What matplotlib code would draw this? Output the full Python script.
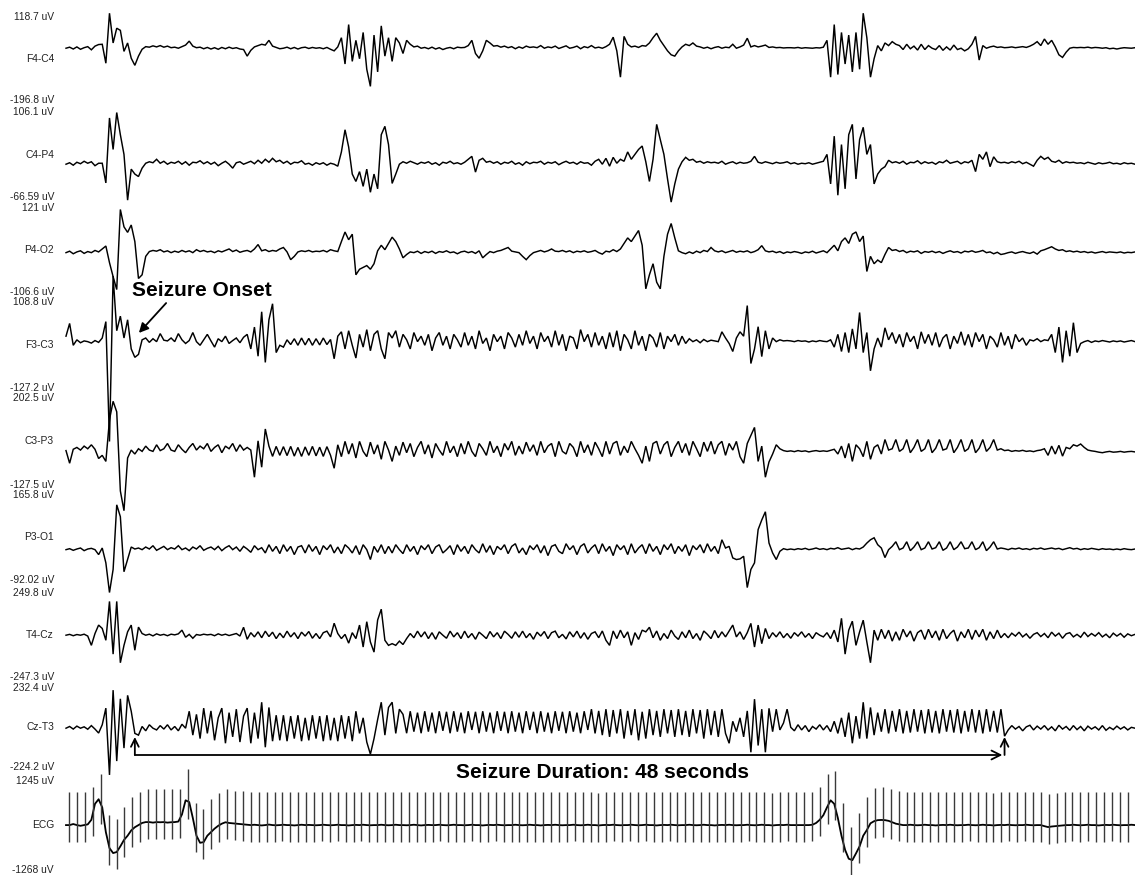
import numpy as np
import matplotlib
matplotlib.use('Agg')
import matplotlib.pyplot as plt

# ---------------- data ----------------
DT = 0.2          # seconds per sample
T_END = 59.0      # visible time window (s)

channels = ['F4-C4', 'C4-P4', 'P4-O2', 'F3-C3', 'C3-P3', 'P3-O1', 'T4-Cz', 'Cz-T3', 'ECG']
scale_max_lbl = ['118.7 uV', '106.1 uV', '121 uV', '108.8 uV', '202.5 uV',
                 '165.8 uV', '249.8 uV', '232.4 uV', '1245 uV']
scale_min_lbl = ['-196.8 uV', '-66.59 uV', '-106.6 uV', '-127.2 uV', '-127.5 uV',
                 '-92.02 uV', '-247.3 uV', '-224.2 uV', '-1268 uV']
ymax_uv = [118.7, 106.1, 121.0, 108.8, 202.5, 165.8, 249.8, 232.4, 1245.0]
ymin_uv = [-196.8, -66.59, -106.6, -127.2, -127.5, -92.02, -247.3, -224.2, -1268.0]

seizure_onset_s = 3.8
seizure_duration_s = 48

# EEG samples (uV), one value every DT seconds
f4c4 = [0, 4, -3, 5, -4, 2, 6, -6, 8, 14,
        15, -57, 133, 20, 76, 68, -12, 20, -38, -65,
        -30, -4, 6, 4, 9, 5, 10, 4, 8, 2,
        4, 0, 6, 12, 27, 8, 2, 4, -2, 3,
        -3, 2, -4, 3, -2, 4, -1, 2, -3, -5,
        -30, -8, 5, 10, 15, 12, 30, 8, 3, -2,
        0, 4, -2, 3, -3, 2, 4, -1, 3, 0,
        2, -2, 3, -4, -10, 5, 40, -60, 90, -50,
        30, -40, 60, -80, -145, 50, -90, 85, -30, 40,
        -50, 40, 20, -20, 30, 15, 5, 8, 0, 3,
        -2, 4, -3, 2, -5, 0, 3, -2, 4, 2,
        3, 10, 30, -20, -38, -10, 30, 20, 8, 10,
        4, 8, 2, 6, -2, 5, 0, 8, 3, 5,
        2, 10, 0, 5, 2, 8, -1, 4, 9, 0,
        3, 8, -2, 6, 2, 10, 1, 4, 0, 6,
        15, 42, -10, -110, 45, 15, 5, 8, 3, 10,
        8, 20, 40, 57, 30, 10, -10, -25, -30, -10,
        5, 15, 10, 20, 8, 5, 0, 4, -2, 3,
        6, 0, 4, 2, 15, 0, 5, 12, 38, 5,
        10, 5, 8, 12, 3, 5, 2, 3, 1, 2,
        2, 1, 3, 0, 2, 1, 0, 2, 1, 4,
        30, -110, 90, -100, 60, -60, 50, -90, 60, -80,
        133, 40, -110, -40, 10, -10, 20, 10, 25, 15,
        10, -5, 15, -2, 8, -7, 15, -5, 10, 0,
        -5, 10, -8, 5, -7, 12, -5, 0, -10, -2,
        15, 45, -45, 10, 0, 5, 8, 3, 5, 2,
        3, 5, 2, 4, 6, 3, 8, 15, 25, 10,
        35, 15, 30, 5, -25, -35, -15, 0, 3, 2,
        3, 2, 4, 1, 3, 2, 0, 2, -2, 0,
        -3, 0, 2, 1, 0, 2]

c4p4 = [0, 3, -2, 4, 1, 6, 2, 5, -3, 2,
        2, -38, 94, 30, 105, 60, 20, -73, -10, -20,
        -25, -8, 2, 5, 3, 10, 2, 6, 0, 4,
        2, 6, 0, 5, -2, 4, 3, 7, 1, 5,
        0, 4, -3, 2, 6, 0, -8, 3, 5, 0,
        3, 6, 1, 8, 2, 10, 4, 12, 5, 8,
        2, 6, 0, 4, 3, 7, 0, 2, -2, 3,
        0, 3, -2, 2, 0, -4, 25, 70, 35, -20,
        -35, -15, -45, -10, -57, -20, -50, 60, 77, 40,
        -39, -20, 0, 5, 2, 6, 3, 0, 4, 2,
        5, 0, 3, -2, 4, 2, 6, 1, 3, 0,
        4, 10, 16, -16, 8, 12, 4, 6, 2, 5,
        0, 4, 2, 6, 0, 3, -2, 5, 1, 4,
        3, 6, 0, 4, 2, 5, -1, 3, 6, 2,
        4, 0, 5, 2, 3, -2, 6, 10, 0, 12,
        -4, 14, 2, 10, 6, 25, 10, 20, 30, 37,
        5, -35, 10, 81, 50, 20, -30, -77, -40, -10,
        5, 14, 8, 10, 4, 6, 2, 5, 3, 4,
        2, 6, 0, 3, 5, 1, 4, 2, 3, 6,
        16, 4, 2, 5, 3, 1, 4, 2, 3, 5,
        1, 3, 0, 2, 1, 3, 0, 2, 4, 6,
        20, -40, 57, -63, 40, -50, 60, 81, -30, 50,
        75, 20, 40, -40, -20, -10, -5, 8, 3, 5,
        2, 6, 0, 4, 3, 7, 1, 5, 2, 4,
        0, 5, 3, 8, 2, 4, 6, 1, 5, 3,
        8, -15, 20, 10, 25, -5, 15, 5, 3, 4,
        2, 5, 3, 6, 1, 4, 0, -4, 8, 16,
        10, 14, 6, 4, 8, 2, 5, 3, 4, 2,
        3, 1, 4, 2, 0, 3, 1, 2, 4, 1,
        2, 0, 3, 1, 2, 0]

p4o2 = [0, 4, -3, 2, 5, -2, 3, 0, 6, 2,
        10, 18, -27, -65, -100, 117, 70, 55, 75, 30,
        -70, -60, -10, 3, 6, 4, 8, 2, 5, 0,
        4, 1, 6, 2, 5, 0, 8, 3, 6, 2,
        4, 0, 5, 2, 6, 10, 3, 7, 1, 4,
        6, 2, 10, 22, 5, 8, 3, 6, 4, 10,
        14, 2, -19, -10, 2, 5, 3, 6, 2, 4,
        3, 6, 2, 8, 5, 3, 30, 56, 35, 50,
        -60, -45, -40, -35, -45, -30, 5, 20, 8, 25,
        42, 30, 10, -14, -5, 2, 0, 4, -2, 3,
        0, 4, -2, 3, 1, 5, 0, 2, -3, 2,
        4, 0, 3, -2, 5, -14, -5, 3, 0, 4,
        6, 10, 14, 4, 2, 0, -10, -19, -8, 0,
        3, 6, 2, 5, 10, 4, 3, 6, 2, 5,
        0, 4, 2, 5, 1, 3, 6, 0, -4, 4,
        2, 8, 3, 10, 25, 40, 30, 45, 60, 20,
        -98, -60, -30, -80, -98, -10, 50, 79, 40, 5,
        0, -3, 2, -2, 4, 0, 6, 3, 14, 5,
        2, 5, 0, 3, 6, 1, 4, 2, 5, 0,
        3, 8, 19, 5, 2, 4, 0, 3, -2, 2,
        0, 3, 1, -2, 2, 0, 4, -1, 2, 5,
        0, 10, 20, 5, 30, 40, 25, 50, 56, 30,
        45, -51, -10, -30, -20, -27, -5, 14, 6, 8,
        3, 6, 0, 4, 2, 5, -2, 3, 1, 4,
        0, 3, -2, 2, 5, 1, 3, -1, 4, 2,
        5, 1, 3, 6, 0, 2, -3, 1, -5, -3,
        0, 2, -2, 1, 3, 0, -2, 2, -4, 5,
        8, 12, 16, 10, 6, 8, 3, 5, 2, 4,
        1, 3, 0, 2, -1, 1, 3, 0, 2, 1,
        0, 2, -1, 1, 0, 2]

f3c3 = [15, 50, -10, 5, -3, 2, 0, -4, 3, -2,
        10, 55, -274, 180, 30, 70, 10, 60, -20, -43,
        -35, 5, 10, -2, 8, 0, 22, 4, 2, 10,
        0, 22, 5, -5, 3, 25, 0, -10, 5, 20,
        2, -15, 8, 0, 15, -5, 3, 10, -3, 12,
        20, -20, 40, -40, 82, -57, 60, 104, -30, -10,
        -15, 5, -8, 8, -10, 10, -9, 9, -10, 8,
        -9, 10, -8, 6, -47, 15, 27, -20, 30, -10,
        -45, 20, -15, 33, -25, 20, 30, -20, -47, 25,
        10, 30, -15, 20, 5, -20, 25, 0, 15, -10,
        20, -25, 10, 25, -10, 15, -20, 20, 5, -15,
        25, -10, 15, -20, 30, -5, 10, -25, 20, 0,
        15, -20, 25, 10, -15, 20, -10, 30, -5, 15,
        -20, 25, 0, 15, -15, 30, -10, 20, -25, 15,
        10, -20, 33, 0, 20, -15, 25, -10, 15, -20,
        25, -15, 30, -25, 20, 5, -20, 30, -10, 15,
        -25, 20, 10, -15, 25, -20, 15, 0, 20, -10,
        15, -5, 8, 0, 5, -3, 6, 0, 4, 2,
        0, 27, 10, -5, -27, 10, 27, 15, 99, -60,
        -20, 41, -41, 30, -20, 10, 0, 5, 2, 3,
        2, 0, 3, 1, 2, -1, 2, 0, 3, 1,
        0, 5, -15, 20, -27, 25, -30, 35, -20, 80,
        -30, 25, -80, -20, 10, -15, 38, 5, 25, -5,
        20, -15, 25, 0, 15, -20, 27, -5, 20, -10,
        25, -15, 10, 20, -20, 15, -5, 27, -10, 20,
        -15, 25, 0, 20, -20, 15, 5, -15, 25, -10,
        15, -20, 20, 0, 10, -10, 5, 2, 8, 0,
        5, 3, 20, -30, 40, -57, 30, -40, 52, -30,
        -5, 0, 3, -2, 2, 0, 3, 1, -1, 2,
        0, 2, -1, 1, 3, 0]

c3p3 = [3, -45, 8, 15, 5, 20, 10, 25, 8, -27,
        -15, -38, 120, 190, 150, -150, -225, -25, 5, -10,
        10, 0, 20, 5, 0, 25, 3, 10, 30, 5,
        0, 25, 8, -5, 15, 30, 5, 20, 10, 30,
        0, 15, 25, -5, 20, 10, 30, 0, 25, 5,
        15, 5, -98, 40, -60, 85, 20, -19, 19, -15,
        18, -16, 19, -18, 15, -19, 17, -15, 19, -17,
        16, -19, 18, -15, -64, 25, -20, 38, -10, 30,
        -25, 38, 0, -20, 35, -10, 25, -30, 38, 5,
        -38, 20, -15, 35, -5, 30, -20, 15, 38, -10,
        25, -25, 30, 5, -15, 38, -5, 20, -20, 30,
        -10, 38, 0, -20, 30, 10, -15, 38, -5, 20,
        -20, 30, 5, 38, -15, 20, -10, 35, 0, 25,
        -15, 38, -5, 20, 30, -20, 38, 0, -10, 30,
        15, -20, 38, -5, 25, -15, 35, 10, -20, 38,
        -10, 30, 38, -15, 20, -5, 38, 10, -15, -45,
        20, -38, 30, 38, -10, 25, 38, -20, 15, 38,
        -5, 30, -15, 38, 10, -20, 35, 0, 38, -10,
        25, 38, -15, 30, 5, 38, -20, -45, 30, 60,
        91, -38, 20, -98, -40, -10, 25, 10, 3, 0,
        2, -1, 3, 0, 2, -2, 1, 3, 0, 2,
        0, 4, 8, -10, 20, -25, 30, -38, 25, 10,
        -20, 38, -30, 15, 25, -10, 45, 5, 10, 45,
        0, 10, 45, -5, 15, 45, 0, 10, 45, -5,
        12, 45, 5, 10, 45, -5, 15, 45, 0, 10,
        45, -5, 12, 45, 0, 15, 45, 5, 10, 3,
        5, 0, 3, 1, 4, 0, 2, -1, 3, 5,
        10, -15, 20, -10, 23, -18, 15, 10, 25, 20,
        28, 15, 5, 2, 0, -3, -5, -2, 0, -3,
        -2, 0, -3, -1, 0, -2]

p3o1 = [0, 3, -2, 2, 5, -3, 2, 4, 0, -15,
        5, -40, -130, -60, 136, 100, -67, -30, 8, 2,
        5, 0, 8, 2, 12, -2, 4, 10, 0, 6,
        2, 12, 0, 5, -3, 8, 2, 12, -2, 4,
        8, 0, 10, -3, 6, 12, 0, 8, -5, 10,
        2, -8, 12, 0, 6, -10, 15, -5, 10, -12,
        15, -5, 10, -15, 8, 12, -10, 15, -5, 10,
        -15, 12, 0, 15, -10, 8, -12, 15, 5, -10,
        12, -15, 15, 0, -30, 10, -8, 15, -12, 10,
        -10, 15, 0, -12, 15, -5, 10, -15, 12, 0,
        15, -12, 8, 15, -10, 0, 12, -15, 15, -5,
        10, -12, 15, 0, -10, 18, -8, 12, -15, 10,
        0, 15, -12, 10, 18, -10, 5, -15, 12, 0,
        15, -10, 12, -18, 10, 15, -5, -12, 18, 0,
        12, -15, 10, 18, -10, 5, 15, -12, 18, -5,
        10, -18, 15, 0, 12, -15, 18, -10, 5, 15,
        -12, 18, -5, 10, -15, 15, 0, 18, -12, 10,
        -5, 15, -18, 12, 0, 15, -10, 18, -5, 10,
        -12, 30, 5, 10, -25, -30, -28, -20, -115, -60,
        -40, 61, 90, 115, 20, -10, -30, -5, 3, 0,
        2, 0, 3, 1, 4, 0, 2, 5, 1, 3,
        0, 4, 2, 6, 1, 3, 5, 0, 4, 2,
        8, 20, 30, 36, 15, 5, -24, 0, 10, 24,
        0, 5, 24, -3, 8, 24, 0, 5, 24, 2,
        6, 24, -2, 5, 24, 0, 8, 24, 3, 5,
        24, 0, 6, 24, -3, 8, 24, 2, 5, 3,
        0, 4, 2, 5, 1, 3, 0, 4, 2, 5,
        1, 3, 5, 2, 4, 0, 3, 6, 2, 4,
        0, 3, 1, 4, 2, 0, 3, 1, 2, 0,
        2, 0, 3, 1, 0, 2]

t4cz = [0, 5, -3, 4, 0, 6, -5, -60, 10, 60,
        40, -30, 200, -112, 200, -163, -60, 20, 60, -89,
        48, 10, 0, 6, -4, 8, 0, 5, -3, 6,
        2, 8, 30, -12, 5, -18, 4, 0, 6, 2,
        5, -3, 8, 0, 6, -2, 4, 10, -5, 47,
        -24, 15, -10, 20, -15, 24, -8, 18, -20, 12,
        -15, 24, -10, 15, -20, 18, -5, 22, -18, 10,
        -20, 15, 24, -10, 71, 10, -20, 5, -47, 15,
        -20, 60, -70, 80, -40, -100, 90, 154, -30, -60,
        -50, -60, -35, -55, -20, 10, -15, 24, -10, 20,
        -20, 15, -24, 20, 0, -18, 24, -10, 15, -20,
        24, -15, 10, -24, 18, 0, -20, 22, -10, 15,
        -20, 24, 5, -18, 20, -12, 24, -15, 10, -24,
        18, -5, 22, -20, 15, 24, -15, 5, -22, 20,
        -10, 24, -18, 15, -24, 10, 20, -15, 25, -30,
        -60, 25, -20, 30, -15, 20, -60, 15, -25, 30,
        20, 47, -15, 25, -30, 10, -20, 30, -5, -25,
        20, -15, 30, -20, 10, -30, 25, 5, -20, 28,
        -15, 20, -10, 25, 60, -10, 20, -25, 15, 70,
        -70, 60, -50, 40, -20, 15, -10, 20, -15, 10,
        -18, 15, -5, 20, -12, 10, -20, 15, 0, -10,
        15, -20, 30, -40, 100, -112, 30, 83, -60, 20,
        89, -40, -163, 30, -30, 35, -20, 30, -35, 20,
        -30, 35, -10, 25, -35, 15, 30, -25, 35, -15,
        25, -30, 35, -20, 10, 30, -35, 20, -15, 35,
        -25, 30, -10, 35, -30, 20, -20, 30, -15, 10,
        -15, 12, -5, 18, -10, 8, -18, 5, 15, -8,
        10, -15, 18, -5, 12, -18, 8, 15, -10, 5,
        -12, 18, -8, 10, -5, 15, -10, 6, -15, 12,
        -5, 10, -12, 8, -3, 5]

czt3 = [0, 10, -5, 12, 0, 8, -6, 15, -5, -28,
        20, 116, -270, 220, -190, 170, -115, 190, 98, -30,
        -40, 10, -15, 20, 0, -10, 15, -5, 20, -10,
        10, -15, 23, 0, 98, -40, 80, -60, 116, -30,
        100, -70, 60, 116, -87, 90, -50, 110, -80, 70,
        116, -87, 90, -60, 150, -110, 120, -75, 75, -70,
        75, -75, 70, -60, 75, -75, 60, -70, 75, -60,
        70, -75, 75, -70, 60, -75, 75, -60, 70, -75,
        98, -30, 60, -80, -150, -60, 50, 150, -40, 120,
        150, -30, 110, 80, -29, 98, -20, 90, -29, 98,
        -20, 90, -29, 98, -15, 95, -29, 98, -20, 90,
        -29, 98, -10, 95, -29, 98, -20, 90, -29, 98,
        -15, 95, -29, 98, -20, 90, -29, 98, -10, 95,
        -29, 98, -20, 90, -29, 98, -15, 95, -29, 98,
        -20, 90, -29, 98, -10, 110, -30, 100, -40, 110,
        -50, 105, -30, 110, -60, 100, -40, 110, -70, 95,
        -60, 110, -40, 100, -50, 110, -30, 105, -50, 110,
        -40, 100, -50, 110, -30, 105, -60, 110, -40, 100,
        -50, 110, -30, -87, 40, -20, 60, -50, 100, -139,
        168, -100, 110, -139, 115, -20, 110, -10, 30, 110,
        5, -15, 20, -10, 15, -20, 10, -5, 20, -10,
        15, -20, 40, -30, 60, -50, 90, -87, 70, -60,
        150, -60, 120, -40, 90, -20, 110, -30, 100, -20,
        110, -30, 100, -25, 110, -20, 105, -30, 110, -25,
        100, -30, 110, -20, 105, -25, 110, -30, 100, -20,
        110, -25, 105, -30, 110, -20, 100, -25, 110, -46,
        -10, 15, -5, 10, -15, 8, 17, -10, 12, -5,
        15, -10, 8, -15, 17, -5, 10, -12, 15, -8,
        10, -15, 12, -5, 8, -10, 15, -12, 5, -8,
        12, -5, 8, -10, 5, 0]

# ECG: slow baseline (uV, every DT s) + QRS beat times (s)
ecg_base = [0, 0, 30, 0, -20, 0, 20, 150, 600, 730,
            500, -200, -650, -790, -760, -600, -420, -300, -150, -60,
            0, 60, 85, 85, 70, 85, 80, 85, 70, 80,
            85, 100, 300, 700, 650, 200, -300, -500, -480, -300,
            -200, -100, -20, 40, 80, 60, 50, 40, 30, 20,
            10, 0, 10, 0, -10, 0, 15, 0, -5, 0,
            10, 0, 0, -10, 0, 10, 0, 5, 0, -5,
            0, 10, 0, -5, 0, 10, 0, 0, -10, 0,
            5, 0, 10, 0, -5, 0, 0, 10, 0, -5,
            0, 10, 0, 0, -5, 0, 10, 0, -10, 0,
            5, 0, 0, 10, 0, -5, 0, 10, 0, 0,
            -5, 0, 10, 0, 0, -10, 0, 5, 0, 10,
            0, -5, 0, 0, 10, 0, -5, 0, 10, 0,
            0, -10, 0, 5, 0, 10, 0, -5, 0, 0,
            10, 0, -5, 0, 10, 0, 0, -10, 0, 5,
            0, 10, 0, -5, 0, 0, 10, 0, -5, 0,
            10, 0, 0, -10, 0, 5, 0, 10, 0, -5,
            0, 0, 10, 0, -5, 0, 10, 0, 0, -10,
            0, 5, 0, 10, 0, -5, 0, 0, 10, 0,
            -5, 0, 10, 0, 0, -10, 0, 5, 0, 10,
            0, 0, 0, 0, 0, 0, 10, 60, 150, 280,
            500, 700, 600, 200, -300, -700, -950, -990, -800, -600,
            -300, -140, 50, 110, 140, 145, 140, 120, 80, 40,
            20, 0, 0, 10, 0, -5, 0, 10, 0, 0,
            -10, 0, 5, 0, 10, 0, -5, 0, 0, 10,
            0, -5, 0, 10, 0, 0, -10, 0, 5, 0,
            10, 0, -5, 0, 0, 10, 0, -5, 0, 0,
            -30, -56, -40, -30, -20, -10, 0, 0, 10, 0,
            -5, 0, 10, 0, 0, -10, 0, 5, 0, 10,
            0, -5, 0, 0, 10, 0]

ecg_beats = [0.17, 0.61, 1.04, 1.48, 1.91, 2.35, 2.79, 3.22, 3.66, 4.09,
             4.53, 4.97, 5.40, 5.84, 6.27, 6.71, 7.15, 7.58, 8.02, 8.45,
             8.89, 9.33, 9.76, 10.20, 10.63, 11.07, 11.51, 11.94, 12.38, 12.81,
             13.25, 13.69, 14.12, 14.56, 14.99, 15.43, 15.87, 16.30, 16.74, 17.17,
             17.61, 18.05, 18.48, 18.92, 19.35, 19.79, 20.23, 20.66, 21.10, 21.53,
             21.97, 22.41, 22.84, 23.28, 23.71, 24.15, 24.59, 25.02, 25.46, 25.89,
             26.33, 26.77, 27.20, 27.64, 28.07, 28.51, 28.95, 29.38, 29.82, 30.25,
             30.69, 31.13, 31.56, 32.00, 32.43, 32.87, 33.31, 33.74, 34.18, 34.61,
             35.05, 35.49, 35.92, 36.36, 36.79, 37.23, 37.67, 38.10, 38.54, 38.97,
             39.41, 39.85, 40.28, 40.72, 41.15, 41.59, 42.03, 42.46, 42.90, 43.33,
             43.77, 44.21, 44.64, 45.08, 45.51, 45.95, 46.39, 46.82, 47.26, 47.69,
             48.13, 48.57, 49.00, 49.44, 49.87, 50.31, 50.75, 51.18, 51.62, 52.05,
             52.49, 52.93, 53.36, 53.80, 54.23, 54.67, 55.11, 55.54, 55.98, 56.41,
             56.85, 57.29, 57.72, 58.16, 58.59]
ECG_R_UV = 930     # R-wave height above baseline
ECG_S_UV = -470    # S-wave depth below baseline

eeg_data = [f4c4, c4p4, p4o2, f3c3, c3p3, p3o1, t4cz, czt3]

# ---------------- layout ----------------
W, H = 1135, 875
fig = plt.figure(figsize=(W / 100, H / 100), dpi=100)
fig.patch.set_facecolor('white')

band_top_px = [17, 112, 208, 302, 398, 495, 593, 688, 781]
band_bot_px = [100, 197, 292, 388, 485, 580, 677, 767, 870]
x0_px = 66
lbl_x = 54 / W

FONT = ['Liberation Sans', 'DejaVu Sans']
axes = []
for i in range(9):
    bottom = 1 - band_bot_px[i] / H
    height = (band_bot_px[i] - band_top_px[i]) / H
    ax = fig.add_axes([x0_px / W, bottom, 1 - x0_px / W, height])
    ax.set_xlim(0, T_END)
    ax.set_ylim(ymin_uv[i], ymax_uv[i])
    ax.axis('off')
    axes.append(ax)
    fig.text(lbl_x, 1 - band_top_px[i] / H, scale_max_lbl[i], ha='right', va='center',
             fontsize=7.4, family=FONT, color='#222222')
    fig.text(lbl_x, 1 - band_bot_px[i] / H, scale_min_lbl[i], ha='right', va='center',
             fontsize=7.4, family=FONT, color='#222222')
    fig.text(lbl_x, 1 - (band_top_px[i] + band_bot_px[i]) / 2 / H, channels[i],
             ha='right', va='center', fontsize=7.4, family=FONT, color='#222222')

for ax, vals in zip(axes[:8], eeg_data):
    v = np.asarray(vals, dtype=float)
    t = np.arange(len(v)) * DT
    ax.plot(t, v, color='black', lw=1.05, clip_on=False, solid_joinstyle='miter')

# ECG
axe = axes[8]
base = np.asarray(ecg_base, dtype=float)
tb = np.arange(len(base)) * DT
axe.plot(tb, base, color='black', lw=1.3, clip_on=False)
beats = np.asarray(ecg_beats)
idx = np.clip(np.round(beats / DT).astype(int), 0, len(base) - 1)
axe.vlines(beats, base[idx] + ECG_S_UV, base[idx] + ECG_R_UV, color='#3a3a3a', lw=1.0,
           clip_on=False)

# ---------------- annotations ----------------
BOLD = dict(fontsize=15, fontweight='bold', family=FONT, color='black')
fig.text(202 / W, 1 - 290 / H, 'Seizure Onset', ha='center', va='center', **BOLD)
fig.patches.append(matplotlib.patches.FancyArrowPatch(
    (168 / W, 1 - 301 / H), (137 / W, 1 - 335 / H), transform=fig.transFigure,
    arrowstyle='-|>', mutation_scale=14, lw=1.3, color='black'))

axc = axes[7]
y_line = 1 - 755 / H
y_tip = 1 - 737 / H
t_on = seizure_onset_s
t_off = seizure_onset_s + seizure_duration_s
axc.annotate('', xy=(t_off - 0.12, y_line), xytext=(t_on, y_line),
             xycoords=('data', 'figure fraction'), textcoords=('data', 'figure fraction'),
             arrowprops=dict(arrowstyle='->', lw=1.3, color='black', mutation_scale=16,
                             shrinkA=0, shrinkB=0), annotation_clip=False)
for tt in (t_on, t_off):
    axc.annotate('', xy=(tt, y_tip), xytext=(tt, y_line),
                 xycoords=('data', 'figure fraction'), textcoords=('data', 'figure fraction'),
                 arrowprops=dict(arrowstyle='->', lw=1.3, color='black', mutation_scale=14,
                                 shrinkA=0, shrinkB=0), annotation_clip=False)
fig.text(602 / W, 1 - 773 / H, 'Seizure Duration: %d seconds' % seizure_duration_s,
         ha='center', va='center', **BOLD)

fig.savefig('out.png', dpi=100, facecolor='white')
